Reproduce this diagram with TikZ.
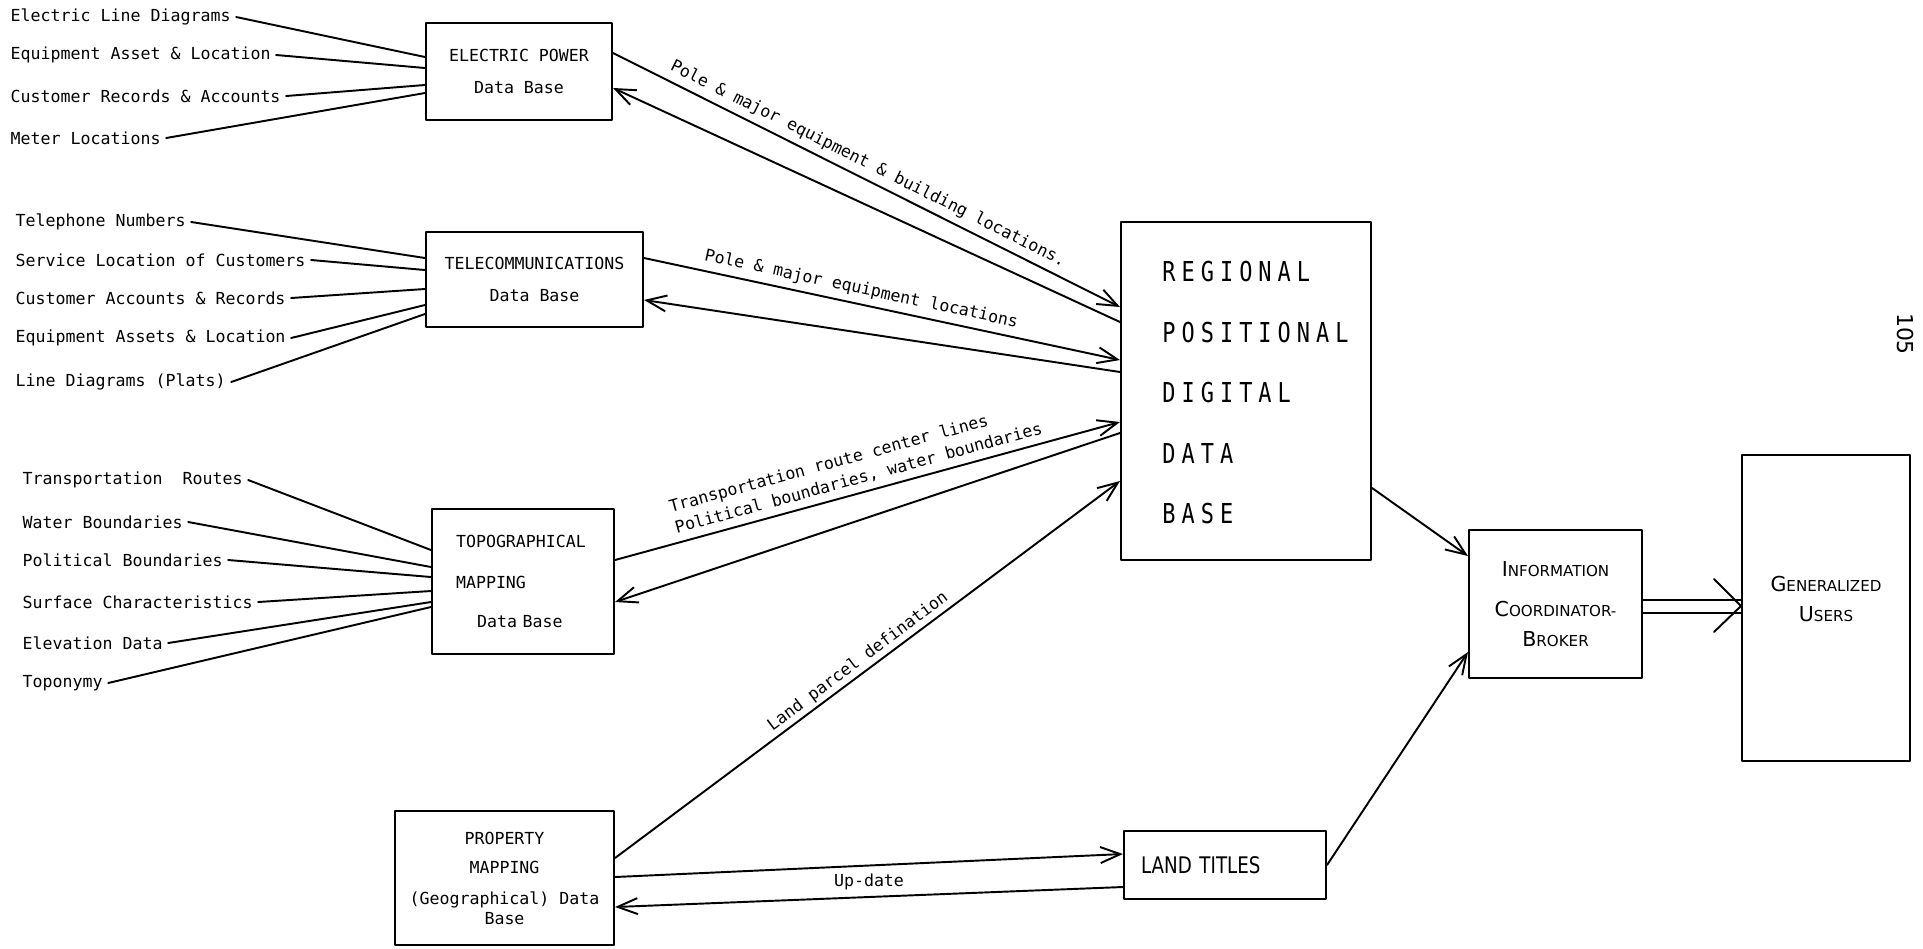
\documentclass[tikz,border=0pt]{standalone}
\usepackage{fontspec}
\setmonofont{DejaVu Sans Mono}
\newfontfamily\handfont{DejaVu Sans}
\newfontfamily\handnarrow[FakeStretch=0.8]{DejaVu Sans}
\newfontfamily\bigfont[FakeStretch=0.8,LetterSpace=22]{DejaVu Sans Mono}
\usetikzlibrary{arrows.meta,calc}

\newcommand{\handsc}[2]{{\fontsize{11.7}{14}\selectfont #1}{\fontsize{8.6}{14}\selectfont #2}}

\tikzset{
  dbbox/.style={draw,line width=1.2pt,inner sep=0pt,
    font=\ttfamily\fontsize{9.45}{11}\selectfont},
  item/.style={anchor=west,inner sep=3pt,
    font=\ttfamily\fontsize{9.45}{11}\selectfont},
  feed/.style={line width=1.1pt},
  flow/.style={line width=1.1pt,-{Straight Barb[length=4mm,width=3.2mm]}},
  along/.style={sloped,above,font=\ttfamily\fontsize{9.45}{12.5}\selectfont},
}

\begin{document}
\begin{tikzpicture}[x=0.02cm,y=-0.02cm,line cap=round,line join=round]
  \useasboundingbox (0,0) rectangle (1923,948);

  % Data bases
  \node[dbbox,minimum width=3.72cm,minimum height=1.94cm,align=center] (ep) at (519,71.5)
    {ELECTRIC POWER\\[7.2pt]Data Base};
  \node[dbbox,minimum width=4.34cm,minimum height=1.9cm,align=center] (tel) at (534.5,279.5)
    {TELECOMMUNICATIONS\\[7.2pt]Data Base};
  \node[dbbox,minimum width=3.64cm,minimum height=2.9cm,text width=2.68cm,align=left] (topo) at (523,581.5)
    {TOPOGRAPHICAL\\[12.3pt]MAPPING\\[11.2pt]\hspace*{0.42cm}Data Base};
  \node[dbbox,minimum width=4.38cm,minimum height=2.68cm,align=center] (prop) at (504.5,878)
    {PROPERTY\\[6pt]MAPPING\\[6.5pt](Geographical) Data\\Base};

  % Regional data base
  \node[dbbox,minimum width=5cm,minimum height=6.76cm] (reg) at (1246,391) {};
  \node[anchor=north west,inner sep=0pt,align=left,
    font=\bigfont\fontsize{15.6}{34.4}\selectfont] (regtxt) at (1162,261)
    {REGIONAL\\POSITIONAL\\DIGITAL\\DATA\\BASE};

  % Land titles, broker and users
  \node[dbbox,minimum width=4.04cm,minimum height=1.36cm,text width=3.36cm,align=left,
    font=\handnarrow\fontsize{13}{15}\selectfont] (lt) at (1225,865) {LAND TITLES};
  \node[dbbox,minimum width=3.46cm,minimum height=2.96cm,align=center,
    font=\handfont\fontsize{11.7}{14}\selectfont] (info) at (1555.5,604)
    {\handsc{I}{NFORMATION}\\[8.8pt]\handsc{C}{OORDINATOR-}\\[3pt]\handsc{B}{ROKER}};
  \node[dbbox,minimum width=3.36cm,minimum height=6.12cm] (gu) at (1826,608) {};
  \node[align=center,font=\handfont\fontsize{11.7}{14}\selectfont] (gutxt) at ($(gu.center)+(0,-9)$)
    {\handsc{G}{ENERALIZED}\\[3pt]\handsc{U}{SERS}};

  % Page number
  \node[rotate=-90,font=\handfont\fontsize{12.5}{14}\selectfont] (page) at (1905,334) {105};

  % Items feeding the electric power data base
  \foreach \txt/\y/\dy [count=\i] in {
      Electric Line Diagrams/17/-14.5,
      Equipment Asset \& Location/55/-3.5,
      Customer Records \& Accounts/96/13.5,
      Meter Locations/138/21.5} {
    \node[item] (elec\i) at (5,\y) {\txt};
    \draw[feed] (elec\i.east) -- ($(ep.west)+(0,\dy)$);
  }

  % Items feeding the telecommunications data base
  \foreach \txt/\y/\dy [count=\i] in {
      Telephone Numbers/222/-21.5,
      Service Location of Customers/260/-9.5,
      Customer Accounts \& Records/298/9.5,
      Equipment Assets \& Location/338/25.5,
      Line Diagrams (Plats)/382/34.5} {
    \node[item] (tele\i) at (10,\y) {\txt};
    \draw[feed] (tele\i.east) -- ($(tel.west)+(0,\dy)$);
  }

  % Items feeding the topographical data base
  \foreach \txt/\y/\dy [count=\i] in {
      Transportation\ \ Routes/480/-31.5,
      Water Boundaries/522/-14.5,
      Political Boundaries/560/-4.5,
      Surface Characteristics/602/9.5,
      Elevation Data/643/20.5,
      Toponymy/683/25.5} {
    \node[item] (map\i) at (17,\y) {\txt};
    \draw[feed] (map\i.east) -- ($(topo.west)+(0,\dy)$);
  }

  % Exchanges with the regional data base
  \draw[flow] ($(ep.east)+(0,-18.5)$) -- ($(reg.west)+(0,-84)$)
    node[along,pos=0.49] {Pole \& major equipment \& building locations.};
  \draw[flow] ($(reg.west)+(0,-69)$) -- ($(ep.east)+(0,16.5)$);

  \draw[flow] ($(tel.east)+(0,-21.5)$) -- ($(reg.west)+(0,-31)$)
    node[along,pos=0.45] {Pole \& major equipment locations};
  \draw[flow] ($(reg.west)+(0,-19)$) -- ($(tel.east)+(0,20.5)$);

  \draw[flow] ($(topo.east)+(0,-21.5)$) -- ($(reg.west)+(0,31)$)
    node[along,pos=0.49,align=left] {Transportation route center lines\\Political boundaries, water boundaries};
  \draw[flow] ($(reg.west)+(0,42)$) -- ($(topo.east)+(0,20.5)$);

  \draw[flow] ($(prop.east)+(0,-20)$) -- ($(reg.west)+(0,90)$)
    node[along,pos=0.495,inner sep=1.5pt] {Land parcel defination};

  % Property and land titles
  \draw[flow] ($(prop.east)+(0,-1)$) -- ($(lt.west)+(0,-11)$);
  \draw[flow] ($(lt.west)+(0,22)$) -- ($(prop.east)+(0,29)$)
    node[above,pos=0.5,font=\ttfamily\fontsize{9.45}{11}\selectfont] {Up-date};

  % Into the broker
  \draw[flow] ($(reg.east)+(0,97)$) -- ($(info.west)+(0,-48)$);
  \draw[flow] (lt.east) -- ($(info.west)+(0,48)$);

  % Broker to users
  \draw[feed] ($(info.east)+(0,-4)$) -- ($(gu.west)+(0,-8)$);
  \draw[feed] ($(info.east)+(0,9)$) -- ($(gu.west)+(0,5)$);
  \draw[feed] ($(gu.west)+(-27,-29)$) -- ($(gu.west)+(0,-2)$) -- ($(gu.west)+(-27,24)$);
\end{tikzpicture}
\end{document}
